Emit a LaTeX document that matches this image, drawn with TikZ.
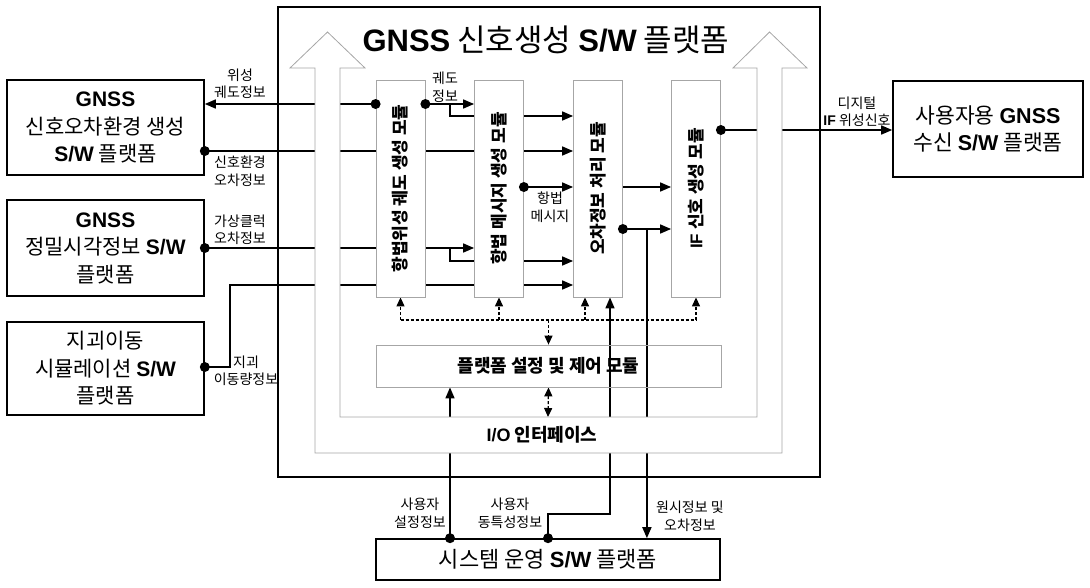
\documentclass[tikz,border=0pt]{standalone}
\usepackage{fontspec}
\setmainfont{Noto Sans CJK KR}
\newfontfamily\arial{Liberation Sans}
\newcommand\E[1]{{\arial\bfseries #1}}
\usetikzlibrary{arrows.meta,calc}
\pgfdeclarelayer{back}
\pgfdeclarelayer{mid}
\pgfsetlayers{back,mid,main}
\begin{document}
\begin{tikzpicture}[x=1pt,y=-1pt,
  box/.style={draw=black,line width=1.6pt,fill=white,inner sep=0pt,align=center,
    font=\fontsize{21}{27.5}\selectfont},
  modbox/.style={draw=gray!70,line width=0.8pt,fill=white,inner sep=0pt,
    minimum width=49pt,minimum height=217pt,font=\fontsize{17}{19}\selectfont\bfseries},
  conn/.style={line width=1.6pt,-{Triangle[length=11pt,width=9pt]}},
  dsh/.style={line width=1.2pt,dash pattern=on 3pt off 2pt},
  dtip/.style={-{Triangle[length=9pt,width=8pt]}},
  lbl/.style={align=center,inner sep=0pt,font=\fontsize{14}{17.5}\selectfont},
  dot/.style={fill=black}]
\useasboundingbox (0,0) rectangle (1090,587);

% outer frame
\node[draw=black,line width=1.6pt,minimum width=542pt,minimum height=470pt,inner sep=0pt]
  (frame) at (549,242) {};
\node[font=\fontsize{31}{34}\selectfont] (title) at (546,40)
  {\E{GNSS} 신호생성 \E{S/W} 플랫폼};

% outside boxes
\node[box,minimum width=197pt,minimum height=95pt] (A) at (105.5,127.5)
  {\E{GNSS}\\신호오차환경 생성\\\E{S/W} 플랫폼};
\node[box,minimum width=197pt,minimum height=96pt] (B) at (105.5,248)
  {\E{GNSS}\\정밀시각정보 \E{S/W}\\플랫폼};
\node[box,minimum width=197pt,minimum height=93pt] (C) at (105.5,368.5)
  {지괴이동\\시뮬레이션 \E{S/W}\\플랫폼};
\node[box,minimum width=190pt,minimum height=96pt,font=\fontsize{21.5}{27.5}\selectfont] (R) at (988,129)
  {사용자용 \E{GNSS}\\수신 \E{S/W} 플랫폼};
\node[box,minimum width=344pt,minimum height=41pt,font=\fontsize{22}{26}\selectfont] (S) at (548,559.5)
  {시스템 운영 \E{S/W} 플랫폼};

% modules
\node[modbox] (m1) at (400.5,188.5) {\rotatebox{90}{항법위성 궤도 생성 모듈}};
\node[modbox] (m2) at (499,188.5) {\rotatebox{90}{항법 메시지 생성 모듈}};
\node[modbox] (m3) at (598,188.5) {\rotatebox{90}{오차정보 처리 모듈}};
\node[modbox] (m4) at (696,188.5) {\rotatebox{90}{\E{IF} 신호 생성 모듈}};
\node[draw=gray!70,line width=0.8pt,minimum width=345pt,minimum height=42pt,inner sep=0pt,
  font=\fontsize{18}{20}\selectfont\bfseries] (P) at (548.5,366) {플랫폼 설정 및 제어 모듈};
\node[font=\fontsize{18}{20}\selectfont\bfseries] (io) at (542,435) {\E{I/O} 인터페이스};

% big hollow U arrow
\begin{pgfonlayer}{mid}
\draw[gray!70,line width=0.8pt,fill=white]
  (315,453) -- (315,68) -- (290,68) -- (327.5,32) -- (365,68) -- (340,68) -- (340,417)
  -- (757,417) -- (757,68) -- (733,68) -- (769.5,32) -- (807,68) -- (782,68) -- (782,453) -- cycle;
\end{pgfonlayer}
\coordinate (uin) at (548,417);

\begin{pgfonlayer}{back}
% 위성 궤도정보
\draw[conn] (m1.west |- 0,104) -- (A.east |- 0,104);
% 궤도정보
\draw[conn] (m1.east |- 0,104) -- (m2.west |- 0,104);
\coordinate (k1) at ($(m1.east |- 0,104)!.5!(m2.west |- 0,104)$);
\draw[conn] (k1) |- (m3.west |- 0,116);
% 신호환경 오차정보
\draw[conn] (A.east |- 0,151) -- (m3.west |- 0,151);
% 가상클럭 오차정보
\draw[conn] (B.east |- 0,248) -- (m2.west |- 0,248);
\coordinate (k2) at (k1 |- 0,248);
\draw[conn] (k2) |- (m3.west |- 0,261);
% 지괴 이동량정보
\draw[conn] (C.east |- 0,367) -- ++(25,0) |- (m3.west |- 0,285);
% 항법 메시지
\draw[conn] (m2.east |- 0,187) -- (m3.west |- 0,187);
\draw[conn] (m3.east |- 0,187) -- (m4.west |- 0,187);
\draw[conn] (m3.east |- 0,229) -- (m4.west |- 0,229);
\coordinate (k3) at ($(m3.east |- 0,229)+(24,0)$);
\draw[conn] (k3) -- (k3 |- S.north);
% 디지털 IF 위성신호
\draw[conn] (m4.east |- 0,130) -- (R.west |- 0,130);
% 사용자 설정정보
\draw[conn] (S.north -| 450,0) -- (P.south -| 450,0);
% 사용자 동특성정보
\draw[conn] (S.north) -- ++(0,-24) -| (m3.south -| 610,0);
% control (dashed)
\draw[dsh] (m1.south |- 0,320) -- (m4.south |- 0,320);
\draw[dsh,dtip] (m1.south |- 0,320) -- (m1.south);
\draw[dsh,dtip] (m2.south |- 0,320) -- (m2.south);
\draw[dsh,dtip] (m3.south -| 585,0) ++(0,23) -- (m3.south -| 585,0);
\draw[dsh,dtip] (m4.south |- 0,320) -- (m4.south);
\draw[dsh,dtip] (P.north |- 0,320) -- (P.north);
\draw[dsh,{Triangle[length=9pt,width=8pt]}-{Triangle[length=9pt,width=8pt]}] (P.south) -- (uin);
\end{pgfonlayer}

% dots
\fill[dot] (m1.west |- 0,104) circle[radius=5];
\fill[dot] (m1.east |- 0,104) circle[radius=5];
\fill[dot] (A.east |- 0,151) circle[radius=5];
\fill[dot] (B.east |- 0,248) circle[radius=5];
\fill[dot] (C.east |- 0,367) circle[radius=5];
\fill[dot] (m2.east |- 0,187) circle[radius=5];
\fill[dot] (m3.east |- 0,229) circle[radius=5];
\fill[dot] (m4.east |- 0,130) circle[radius=5];
\fill[dot] (S.north -| 450,0) circle[radius=5];
\fill[dot] (S.north) circle[radius=5];

% labels
\node[lbl] (l1) at (240,84) {위성\\궤도정보};
\node[lbl] (l2) at (240,171) {신호환경\\오차정보};
\node[lbl] (l3) at (240,230) {가상클럭\\오차정보};
\node[lbl] (l4) at (246,371) {지괴\\이동량정보};
\node[lbl] (l5) at (445,87) {궤도\\정보};
\node[lbl] (l6) at (550,207) {항법\\메시지};
\node[lbl] (l7) at (857,112) {디지털\\\E{IF} 위성신호};
\node[lbl] (l8) at (420,513) {사용자\\설정정보};
\node[lbl] (l9) at (510,513) {사용자\\동특성정보};
\node[lbl] (l10) at (690,516) {원시정보 및\\오차정보};
\end{tikzpicture}
\end{document}
